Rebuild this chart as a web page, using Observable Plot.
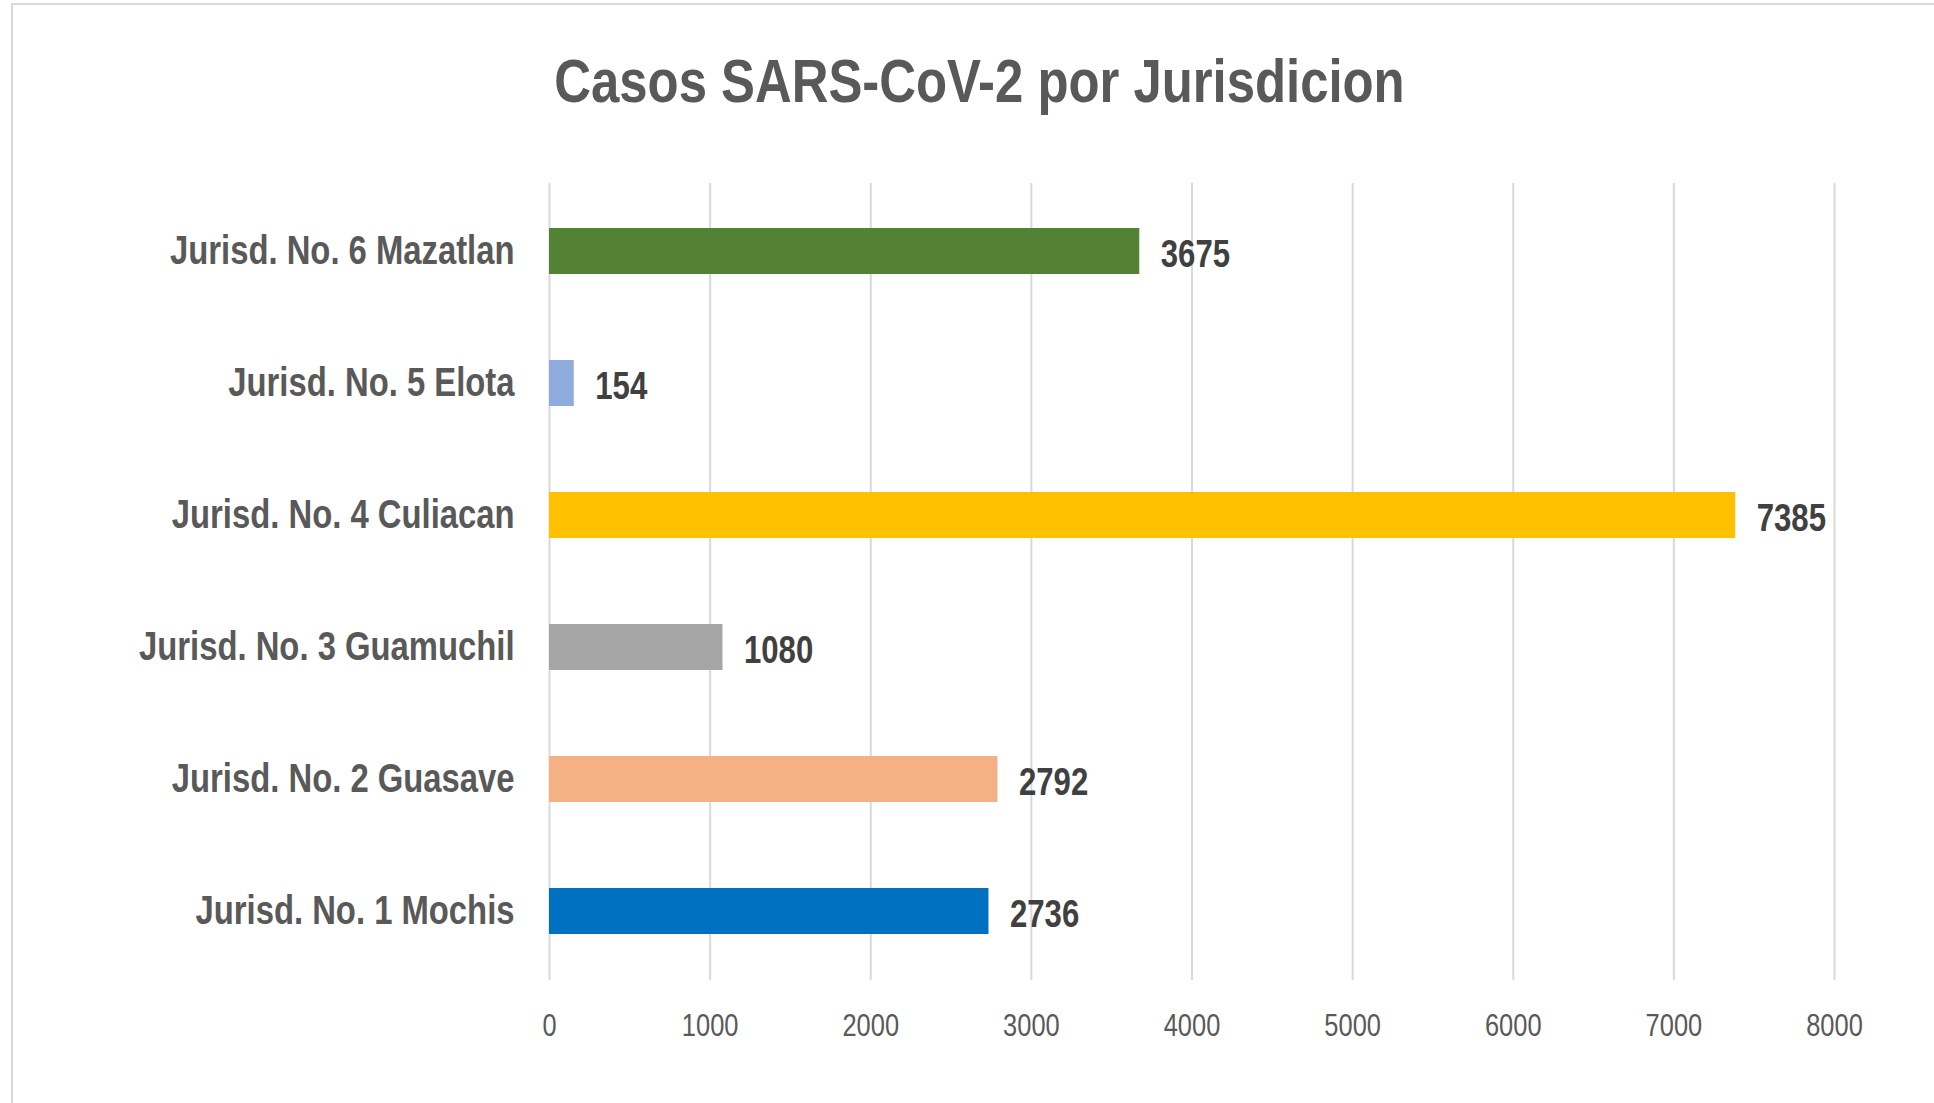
<!DOCTYPE html>
<html>
<head>
<meta charset="utf-8">
<script src="https://cdn.jsdelivr.net/npm/d3@7"></script>
<script src="https://cdn.jsdelivr.net/npm/@observablehq/plot@0.6"></script>
<style>
  html, body { margin: 0; padding: 0; overflow: hidden; background: #ffffff; }
  #wrap { position: relative; width: 1934px; height: 1103px; overflow: hidden; }
  #frame { position: absolute; left: 11px; top: 3px; width: 3000px; height: 3000px;
           border: 2px solid #d9d9d9; pointer-events: none; }
  #title { position: relative; box-sizing: border-box; height: 150px; margin-left: 12px; width: 1934px;
           padding-top: 50px; line-height: 62px; font-size: 62px; font-weight: bold; color: #595959;
           text-align: center; font-family: "Liberation Sans", Arial, sans-serif; }
  #title span { display: inline-block; transform: scaleX(0.82); transform-origin: 50% 50%; white-space: nowrap; }
  #chart { position: relative; }
</style>
</head>
<body>
<div id="wrap">
  <div id="frame"></div>
  <div id="title"><span>Casos SARS-CoV-2 por Jurisdicion</span></div>
  <div id="chart"></div>
</div>
<script>
const categories = [
  "Jurisd. No. 1 Mochis",
  "Jurisd. No. 2 Guasave",
  "Jurisd. No. 3 Guamuchil",
  "Jurisd. No. 4 Culiacan",
  "Jurisd. No. 5 Elota",
  "Jurisd. No. 6 Mazatlan"
];
const cases = [2736, 2792, 1080, 7385, 154, 3675];
const barColors = ["#0070C0", "#F4B183", "#A5A5A5", "#FFC000", "#8FAADC", "#548235"];
const xTicks = [0, 1000, 2000, 3000, 4000, 5000, 6000, 7000, 8000];

const data = categories.map((c, i) => ({category: c, value: cases[i]}));
const font = '"Liberation Sans", Arial, sans-serif';

const chart = Plot.plot({
  width: 1934,
  height: 953,
  marginTop: 33,
  marginBottom: 123,
  marginLeft: 549,
  marginRight: 100,
  style: {fontFamily: font, background: "transparent", overflow: "visible"},
  x: {domain: [0, 8000], label: null},
  y: {domain: categories.slice().reverse(), paddingInner: 0.65, paddingOuter: 0.325, label: null},
  color: {domain: categories, range: barColors},
  marks: [
    Plot.gridX(xTicks, {stroke: "#d9d9d9", strokeWidth: 2, strokeOpacity: 1}),
    Plot.barX(data, {x: "value", y: "category", fill: "category"}),
    Plot.text(data, {x: "value", y: "category", text: d => String(d.value), dx: 21, dy: 3,
      textAnchor: "start", fontSize: 38, fontWeight: "bold", fill: "#404040"}),
    Plot.axisX({ticks: xTicks, tickSize: 0, tickPadding: 33, fontSize: 31, fill: "#595959",
      label: null, tickFormat: d => String(d)}),
    Plot.axisY({tickSize: 0, tickPadding: 35, fontSize: 40, fontWeight: "bold", fill: "#595959", label: null})
  ]
});
document.getElementById("chart").appendChild(chart);

// emulate the narrow typeface of the original
d3.select(chart).selectAll("text").each(function () {
  const len = this.getComputedTextLength();
  if (len > 0) {
    this.setAttribute("textLength", (len * 0.82).toFixed(1));
    this.setAttribute("lengthAdjust", "spacingAndGlyphs");
  }
});
</script>
</body>
</html>
